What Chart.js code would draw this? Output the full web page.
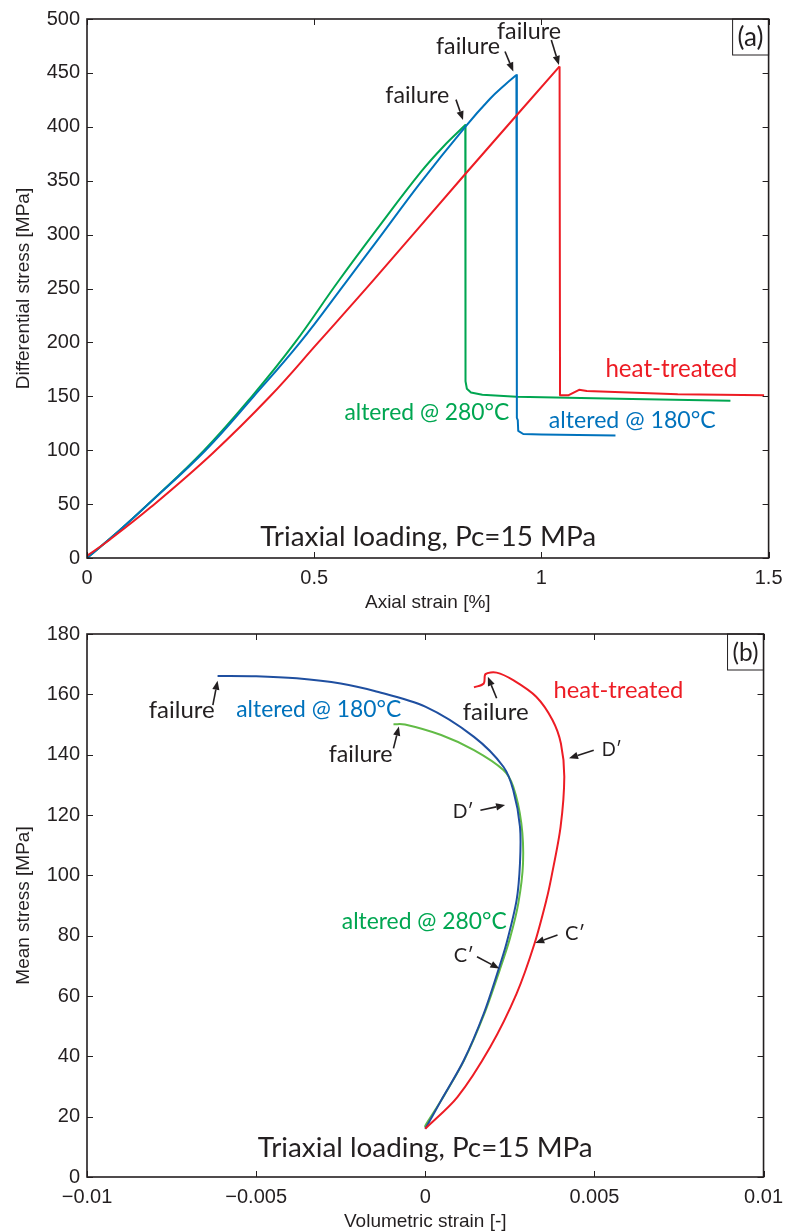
<!DOCTYPE html>
<html>
<head>
<meta charset="utf-8">
<title>Triaxial loading</title>
<script src="https://cdn.jsdelivr.net/npm/chart.js@4.4.1/dist/chart.umd.min.js"></script>
<style>
  body { margin: 0; background: #fff; }
  canvas { display: block; }
</style>
</head>
<body>
<canvas id="chartA" width="791" height="615"></canvas>
<canvas id="chartB" width="791" height="617"></canvas>
<script>
// ---- panel (a): axial strain [%] vs differential stress [MPa] ----
const xTicksA = [0, 0.5, 1, 1.5];
const yTicksA = [0, 50, 100, 150, 200, 250, 300, 350, 400, 450, 500];

// loading branch up to failure
const alt280A_x = [0, 0.07, 0.135, 0.258, 0.363, 0.458, 0.552, 0.639, 0.734, 0.785, 0.8325];
const alt280A_y = [0, 25, 50, 100, 150, 200, 256, 305.5, 357.7, 382, 401.6];
// stress drop and residual branch after failure
const alt280A_postX = [0.8325, 0.833, 0.836, 0.845, 0.87, 0.945, 1.2, 1.416];
const alt280A_postY = [401.6, 164, 157, 153.5, 151.5, 149.5, 147.5, 145.8];

const alt180A_x = [0, 0.07, 0.135, 0.261, 0.367, 0.469, 0.570, 0.639, 0.734, 0.8325, 0.887, 0.92, 0.945];
const alt180A_y = [0, 25, 50, 100, 150, 200, 256, 294.7, 348.3, 400, 426, 439, 448];
const alt180A_postX = [0.945, 0.946, 0.948, 0.949, 0.96, 1.0, 1.163];
const alt180A_postY = [448, 130, 128, 118, 115, 114.5, 113.6];

const heatA_x = [0, 0.05, 0.14, 0.276, 0.403, 0.509, 0.629, 0.832, 1.04];
const heatA_y = [2, 17, 47, 97, 150, 200, 257, 356, 456];
const heatA_postX = [1.04, 1.041, 1.06, 1.083, 1.10, 1.3, 1.49];
const heatA_postY = [456, 151, 151, 156, 155, 152, 151];

// ---- panel (b): volumetric strain [-] vs mean stress [MPa] ----
const xTicksB = [-0.01, -0.005, 0, 0.005, 0.01];
const yTicksB = [0, 20, 40, 60, 80, 100, 120, 140, 160, 180];

const alt180B_x = [-0.00614, -0.005, -0.0038, -0.0025, -0.0015, 0.0, 0.00144, 0.00231, 0.0026, 0.0028, 0.0028, 0.0027, 0.0024, 0.00216, 0.00173, 0.00114, 0.00047, 0.00003, 0];
const alt180B_y = [166.1, 166.0, 165.3, 163.6, 161.1, 155.9, 145.9, 136, 128.3, 116.1, 104, 91.8, 77.4, 68.6, 54.2, 38.7, 25.4, 16.6, 16];

const alt280B_x = [-0.00094, -0.0006, 0.00047, 0.00144, 0.00231, 0.0026, 0.00284, 0.00289, 0.00275, 0.0025, 0.0022, 0.00175, 0.00114, 0.00045, 0.0, 0.0];
const alt280B_y = [150.1, 150, 146.5, 141.5, 134.9, 129.4, 117.2, 104, 90.7, 79, 68.6, 54.2, 38.5, 25, 17, 16.5];

const heatB_x = [0, 0.00095, 0.00192, 0.0027, 0.00323, 0.00358, 0.00373, 0.004, 0.00411, 0.00401, 0.00376, 0.00328, 0.0026, 0.00211, 0.00178, 0.00173, 0.00144];
const heatB_y = [16, 26.5, 43.1, 60.8, 77.4, 91.8, 99.5, 116.1, 132.7, 143.7, 151.5, 159.2, 164.7, 167.2, 166.7, 163.6, 162.3];

const INK = "#231f20";
const GREEN = "#00a651";
const BLUE = "#0072bc";
const RED = "#ed1c24";
const TEXT_FONT = "Lato";
const TICK_FONT = "Liberation Sans";

const toPoints = (xs, ys) => xs.map((x, i) => ({ x, y: ys[i] }));

// font size that makes `text` about `width` pixels wide
const fitFont = (ctx, text, width) => {
  ctx.font = `100px ${TEXT_FONT}`;
  return (100 * width) / ctx.measureText(text).width;
};

const fmtTick = (v) => (v < 0 ? "\u2212" + String(-v) : String(v));

/**
 * Box with inward ticks on all four sides, plus text notes and arrows
 */
const framePlugin = {
  id: "frame",
  afterDatasetsDraw(chart, args, opts) {
    const { ctx, chartArea: a, scales } = chart;
    const sx = scales.x;
    const sy = scales.y;
    ctx.save();

    ctx.strokeStyle = INK;
    ctx.lineWidth = 1;
    ctx.beginPath();
    sx.ticks.forEach((t) => {
      const px = Math.round(sx.getPixelForValue(t.value)) + 0.5;
      ctx.moveTo(px, a.bottom);
      ctx.lineTo(px, a.bottom - 6);
      ctx.moveTo(px, a.top);
      ctx.lineTo(px, a.top + 6);
    });
    sy.ticks.forEach((t) => {
      const py = Math.round(sy.getPixelForValue(t.value)) + 0.5;
      ctx.moveTo(a.left, py);
      ctx.lineTo(a.left + 6, py);
      ctx.moveTo(a.right, py);
      ctx.lineTo(a.right - 6, py);
    });
    ctx.stroke();

    ctx.lineWidth = 1.6;
    ctx.strokeRect(a.left, a.top, a.right - a.left, a.bottom - a.top);

    // panel tag, e.g. "(a)"
    ctx.lineWidth = 1;
    ctx.strokeRect(a.right - 36, a.top, 36, 36);
    ctx.fillStyle = INK;
    ctx.textAlign = "center";
    ctx.textBaseline = "middle";
    ctx.font = `${fitFont(ctx, opts.tag, 26)}px ${TEXT_FONT}`;
    ctx.fillText(opts.tag, a.right - 18, a.top + 19);

    // text notes
    opts.notes.forEach((n) => {
      ctx.fillStyle = n.color;
      ctx.font = `${fitFont(ctx, n.text, n.w)}px ${TEXT_FONT}`;
      ctx.fillText(n.text, sx.getPixelForValue(n.x), sy.getPixelForValue(n.y));
    });

    // arrows
    ctx.strokeStyle = INK;
    ctx.fillStyle = INK;
    ctx.lineWidth = 1.6;
    opts.arrows.forEach((ar) => {
      const x1 = sx.getPixelForValue(ar[0]);
      const y1 = sy.getPixelForValue(ar[1]);
      const x2 = sx.getPixelForValue(ar[2]);
      const y2 = sy.getPixelForValue(ar[3]);
      const ang = Math.atan2(y2 - y1, x2 - x1);
      const hl = 9;
      const hw = 3.6;
      const bx = x2 - hl * Math.cos(ang);
      const by = y2 - hl * Math.sin(ang);
      ctx.beginPath();
      ctx.moveTo(x1, y1);
      ctx.lineTo(bx, by);
      ctx.stroke();
      ctx.beginPath();
      ctx.moveTo(x2, y2);
      ctx.lineTo(bx + hw * Math.sin(ang), by - hw * Math.cos(ang));
      ctx.lineTo(bx - hw * Math.sin(ang), by + hw * Math.cos(ang));
      ctx.closePath();
      ctx.fill();
    });

    ctx.restore();
  },
};

const line = (label, pts, color, width, tension) => ({
  label,
  data: pts,
  showLine: true,
  borderColor: color,
  backgroundColor: color,
  borderWidth: width,
  borderJoinStyle: "round",
  pointRadius: 0,
  fill: false,
  tension,
});

const makeChart = (id, cfg) => {
  const tickFont = { family: TICK_FONT, size: 20 };
  const titleFont = { family: TICK_FONT, size: 19, lineHeight: 1 };
  return new Chart(document.getElementById(id), {
    type: "scatter",
    data: { datasets: cfg.datasets },
    options: {
      responsive: false,
      animation: false,
      devicePixelRatio: 1,
      layout: { padding: { top: cfg.padTop, right: 17, left: 0, bottom: 0 } },
      plugins: {
        legend: { display: false },
        tooltip: { enabled: false },
        frame: { tag: cfg.tag, notes: cfg.notes, arrows: cfg.arrows },
      },
      scales: {
        x: {
          type: "linear",
          min: cfg.xTicks[0],
          max: cfg.xTicks[cfg.xTicks.length - 1],
          afterBuildTicks: (s) => { s.ticks = cfg.xTicks.map((v) => ({ value: v })); },
          afterFit: (s) => { s.height = cfg.xHeight; },
          grid: { display: false, drawTicks: false },
          border: { display: false },
          ticks: { color: INK, font: tickFont, padding: cfg.xTickPad, maxRotation: 0, callback: fmtTick },
          title: { display: true, text: cfg.xTitle, color: INK, font: titleFont, padding: { top: 0, bottom: cfg.xTitlePad } },
        },
        y: {
          type: "linear",
          min: cfg.yTicks[0],
          max: cfg.yTicks[cfg.yTicks.length - 1],
          afterBuildTicks: (s) => { s.ticks = cfg.yTicks.map((v) => ({ value: v })); },
          afterFit: (s) => { s.width = 87; },
          grid: { display: false, drawTicks: false },
          border: { display: false },
          ticks: { color: INK, font: tickFont, padding: 7, callback: fmtTick },
          title: { display: true, text: cfg.yTitle, color: INK, font: titleFont, padding: { top: 14.5, bottom: 0 } },
        },
      },
    },
    plugins: [framePlugin],
  });
};

makeChart("chartA", {
  tag: "(a)",
  padTop: 16,
  xHeight: 57,
  xTickPad: 8.5,
  xTitlePad: 2.5,
  xTicks: xTicksA,
  yTicks: yTicksA,
  xTitle: "Axial strain [%]",
  yTitle: "Differential stress [MPa]",
  datasets: [
    line("heat-treated", toPoints(heatA_x, heatA_y), RED, 2, 0.4),
    line("heat-treated (post-failure)", toPoints(heatA_postX, heatA_postY), RED, 2, 0),
    line("altered @ 180°C", toPoints(alt180A_x, alt180A_y), BLUE, 2, 0.4),
    line("altered @ 180°C (post-failure)", toPoints(alt180A_postX, alt180A_postY), BLUE, 2, 0),
    line("altered @ 280°C", toPoints(alt280A_x, alt280A_y), GREEN, 2, 0.4),
    line("altered @ 280°C (post-failure)", toPoints(alt280A_postX, alt280A_postY), GREEN, 2, 0),
  ],
  notes: [
    { text: "failure", x: 0.727, y: 429.5, color: INK, w: 64 },
    { text: "failure", x: 0.8384, y: 474.8, color: INK, w: 64 },
    { text: "failure", x: 0.9727, y: 488.5, color: INK, w: 64 },
    { text: "heat-treated", x: 1.286, y: 175.3, color: RED, w: 132 },
    { text: "altered @ 180°C", x: 1.2, y: 127.4, color: BLUE, w: 167 },
    { text: "altered @ 280°C", x: 0.748, y: 134.8, color: GREEN, w: 165 },
    { text: "Triaxial loading, Pc=15 MPa", x: 0.751, y: 19.6, color: INK, w: 336 },
  ],
  arrows: [
    [0.812, 425.2, 0.8275, 406.2],
    [0.9199, 469.8, 0.9382, 451.4],
    [1.0218, 480.5, 1.0386, 457.4],
  ],
});

makeChart("chartB", {
  tag: "(b)",
  padTop: 19,
  xHeight: 55,
  xTickPad: 8,
  xTitlePad: 0.5,
  xTicks: xTicksB,
  yTicks: yTicksB,
  xTitle: "Volumetric strain [-]",
  yTitle: "Mean stress [MPa]",
  datasets: [
    line("heat-treated", toPoints(heatB_x, heatB_y), RED, 2, 0.3),
    line("altered @ 180°C", toPoints(alt180B_x, alt180B_y), "#1f4fa0", 2, 0.3),
    line("altered @ 280°C", toPoints(alt280B_x, alt280B_y), "#62bb46", 2, 0.3),
  ],
  notes: [
    { text: "failure", x: -0.0072, y: 154.8, color: INK, w: 66 },
    { text: "altered @ 180°C", x: -0.00315, y: 154.8, color: BLUE, w: 165 },
    { text: "failure", x: -0.00191, y: 139.9, color: INK, w: 64 },
    { text: "failure", x: 0.00208, y: 154.2, color: INK, w: 66 },
    { text: "heat-treated", x: 0.00571, y: 161.4, color: RED, w: 130 },
    { text: "D\u2032", x: 0.00551, y: 141.5, color: INK, w: 20 },
    { text: "D\u2032", x: 0.00112, y: 121.1, color: INK, w: 21 },
    { text: "altered @ 280°C", x: -0.00003, y: 84.5, color: GREEN, w: 165 },
    { text: "C\u2032", x: 0.00114, y: 73.5, color: INK, w: 20 },
    { text: "C\u2032", x: 0.00443, y: 80.8, color: INK, w: 20 },
    { text: "Triaxial loading, Pc=15 MPa", x: 0, y: 9.5, color: INK, w: 335 },
  ],
  arrows: [
    [-0.00628, 156.4, -0.00614, 164.5],
    [-0.00094, 142.1, -0.00078, 149.3],
    [0.00211, 158.7, 0.00185, 165.8],
    [0.00498, 141.5, 0.00425, 138.8],
    [0.00163, 121.6, 0.00236, 123.3],
    [0.00153, 73, 0.00219, 69.1],
    [0.00391, 80.2, 0.00325, 77.6],
  ],
});
</script>
</body>
</html>
